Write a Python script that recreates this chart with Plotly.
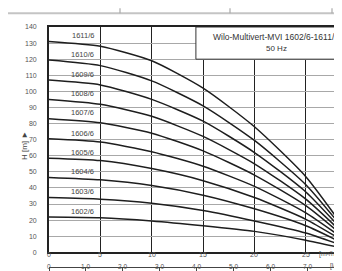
import plotly.graph_objects as go

# ---- data ----
flow_m3h = [0, 5, 10, 15, 20, 25, 29.3]
pump_names = ["1611/6", "1610/6", "1609/6", "1608/6", "1607/6",
              "1606/6", "1605/6", "1604/6", "1603/6", "1602/6"]
head_1611 = [131, 128, 119, 102, 78, 47, 10]
head_1610 = [119.5, 116, 106.5, 91, 69.5, 42, 9.5]
head_1609 = [107, 104, 95, 81.5, 62, 37.5, 8.5]
head_1608 = [95, 92, 84.5, 72, 55, 33, 7.5]
head_1607 = [83, 80.5, 74, 63, 48, 29, 6.5]
head_1606 = [70.5, 68.5, 62.5, 53.5, 41, 24.5, 5.5]
head_1605 = [58.5, 57, 52, 44.5, 34, 20.5, 4.5]
head_1604 = [46.5, 45, 41.5, 35.5, 27, 16.5, 3.5]
head_1603 = [34, 33, 30.5, 26, 19.5, 12, 2.5]
head_1602 = [22, 21.5, 19.5, 16.5, 13, 7.5, 1.5]
heads = [head_1611, head_1610, head_1609, head_1608, head_1607,
         head_1606, head_1605, head_1604, head_1603, head_1602]

x_ticks = [0, 5, 10, 15, 20, 25]
y_ticks = list(range(0, 141, 10))
ls_ticks = [0, 1, 2, 3, 4, 5, 6, 7]
ls_labels = ["0", "1.0", "2.0", "3.0", "4.0", "5.0", "6.0", "7.0"]
title_lines = ["Wilo-Multivert-MVI 1602/6-1611/6", "50 Hz"]

W, H = 342, 271
L, T = 41, 19
XMAX = 29.3
FONT = "Liberation Sans"

pw = W - L
ph = H - T

def px_x(px):
    return (px - L) / pw

def px_y(py):
    return (H - py) / ph

fig = go.Figure()
for name, h in zip(pump_names, heads):
    fig.add_trace(go.Scatter(x=flow_m3h, y=h, mode="lines", name=name,
                             line=dict(color="#1e1e1e", width=1.5, shape="spline", smoothing=0.6),
                             showlegend=False, hoverinfo="skip"))
    fig.add_annotation(x=4.6, y=h[0] + 3.6, text=name, xanchor="right", yanchor="middle",
                       showarrow=False, font=dict(size=7.5, color="#444", family=FONT))

# dummy trace for secondary l/s axis
fig.add_trace(go.Scatter(x=[0], y=[0], xaxis="x2", mode="markers", marker=dict(opacity=0),
                         showlegend=False, hoverinfo="skip"))

ydom0 = px_y(247)
fig.update_layout(
    width=W, height=H,
    margin=dict(l=L, r=0, t=T, b=0, pad=0),
    paper_bgcolor="white", plot_bgcolor="white",
    font=dict(family=FONT, size=7, color="#555"),
    xaxis=dict(range=[0, XMAX], domain=[0, 1], tickvals=x_ticks, ticks="",
               showticklabels=False,
               showgrid=True, gridcolor="#222", gridwidth=1.4,
               showline=True, linecolor="#222", linewidth=1.6, mirror=True,
               zeroline=False),
    yaxis=dict(range=[0, 140], domain=[ydom0, 1], tickvals=y_ticks, ticks="", ticklen=0,
               showgrid=True, gridcolor="#a8a8a8", gridwidth=1,
               showline=True, linecolor="#222", linewidth=1.8,
               zeroline=False, ticklabelstandoff=9,
               tickfont=dict(size=7, color="#555")),
    xaxis2=dict(overlaying="x", anchor="free", position=px_y(262), side="bottom",
                range=[0, XMAX / 3.6], tickvals=ls_ticks, showticklabels=False,
                ticks="outside", ticklen=3, tickcolor="#444", tickwidth=1,
                showline=True, linecolor="#444", linewidth=1.2,
                showgrid=False, zeroline=False),
)

# m3/h tick labels on the primary axis scale
for v in x_ticks:
    fig.add_annotation(xref="x", yref="paper", x=v, y=px_y(255), text=str(v), showarrow=False,
                       font=dict(size=7, color="#555", family=FONT))

# l/s tick labels placed on the secondary axis scale
for v, t in zip(ls_ticks, ls_labels):
    fig.add_annotation(xref="x2", yref="paper", x=v, y=px_y(267), text=t, showarrow=False,
                       font=dict(size=6.5, color="#555", family=FONT))

# title box
fig.add_shape(type="rect", xref="x", yref="y", x0=14.3, x1=31, y0=120, y1=140,
              fillcolor="white", line=dict(color="#333", width=1), layer="above")
fig.add_annotation(xref="x", yref="y", x=22.1, y=134, text=title_lines[0], showarrow=False,
                   font=dict(size=8.5, color="#333", family=FONT))
fig.add_annotation(xref="x", yref="y", x=22.1, y=126.5, text=title_lines[1], showarrow=False,
                   font=dict(size=8, color="#333", family=FONT))

# axis unit labels
fig.add_annotation(xref="paper", yref="paper", x=px_x(331), y=px_y(255), text="[m³/h]",
                   showarrow=False, font=dict(size=7, color="#555", family=FONT))
fig.add_annotation(xref="paper", yref="paper", x=px_x(334), y=px_y(267), text="[l/s]",
                   showarrow=False, font=dict(size=6.5, color="#555", family=FONT))
fig.add_annotation(xref="paper", yref="paper", x=px_x(10), y=px_y(139), text="H [m] ►",
                   textangle=-90, showarrow=False, font=dict(size=8, color="#444", family=FONT))

# scanned page table border at the top
fig.add_shape(type="line", xref="paper", yref="paper", x0=px_x(0), x1=px_x(342),
              y0=px_y(5), y1=px_y(5), line=dict(color="#c4c4c4", width=2))
for vx in [112, 222, 324]:
    fig.add_shape(type="line", xref="paper", yref="paper", x0=px_x(vx), x1=px_x(vx),
                  y0=px_y(0), y1=px_y(5), line=dict(color="#aaa", width=1.2))

fig.write_html("out.html")
